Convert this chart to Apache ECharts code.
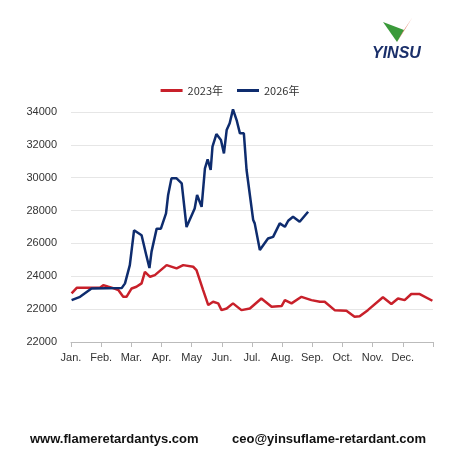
<!DOCTYPE html><html><head><meta charset="utf-8"><script src="https://cdn.jsdelivr.net/npm/echarts@6/dist/echarts.min.js"></script></head><body style="margin:0"><div id="c" style="width:460px;height:460px"></div><script>
const months=['Jan.','Feb.','Mar.','Apr.','May','Jun.','Jul.','Aug.','Sep.','Oct.','Nov.','Dec.'];
const yLabels={34000:'34000',32000:'32000',30000:'30000',28000:'28000',26000:'26000',24000:'24000',22000:'22000',20000:'22000'};
const s2023=[[0.02,22960],[0.19,23300],[0.96,23300],[1.07,23460],[1.24,23360],[1.4,23280],[1.57,23160],[1.73,22750],[1.84,22750],[2.01,23260],[2.17,23360],[2.34,23570],[2.45,24270],[2.62,23970],[2.78,24070],[3.17,24680],[3.5,24480],[3.72,24680],[4.05,24580],[4.16,24380],[4.38,23160],[4.55,22250],[4.71,22450],[4.88,22350],[4.99,21940],[5.16,22040],[5.37,22350],[5.65,21940],[5.93,22040],[6.31,22650],[6.65,22140],[6.98,22190],[7.09,22550],[7.31,22350],[7.64,22750],[7.97,22550],[8.25,22450],[8.41,22450],[8.74,21940],[9.13,21900],[9.4,21530],[9.57,21570],[9.84,21940],[10.34,22720],[10.62,22310],[10.84,22650],[11.06,22550],[11.28,22920],[11.56,22920],[11.98,22510]];
const s2026=[[0.02,22550],[0.3,22750],[0.68,23260],[1.68,23280],[1.79,23570],[1.95,24680],[2.09,26800],[2.34,26500],[2.48,25400],[2.6,24500],[2.67,25500],[2.84,26900],[2.98,26900],[3.15,27830],[3.22,28950],[3.33,29960],[3.5,29960],[3.67,29660],[3.83,27000],[4.1,28130],[4.18,28950],[4.33,28230],[4.44,30570],[4.53,31120],[4.63,30470],[4.69,31890],[4.82,32660],[4.97,32290],[5.07,31480],[5.16,32900],[5.26,33310],[5.37,34160],[5.49,33510],[5.6,32700],[5.73,32700],[5.82,30470],[6.04,27420],[6.09,27220],[6.26,25600],[6.53,26300],[6.7,26400],[6.92,27220],[7.09,27010],[7.2,27380],[7.36,27620],[7.58,27320],[7.86,27930]];
const ch=echarts.init(document.getElementById('c'));
ch.setOption({
 animation:false,
 legend:{top:80,left:'center',itemWidth:22,itemHeight:3,icon:'rect',itemGap:14,textStyle:{fontSize:11,color:'#333',fontFamily:'Noto Sans CJK SC'},data:['2023年','2026年']},
 grid:{left:71,right:27,top:112,bottom:118},
 xAxis:{type:'value',min:0,max:12,interval:1,axisLine:{lineStyle:{color:'#bbb'}},axisTick:{show:true,lineStyle:{color:'#bbb'}},splitLine:{show:false},
  axisLabel:{color:'#333',fontSize:11,margin:10,formatter:v=>months[v]||''}},
 yAxis:{type:'value',min:20000,max:34000,interval:2000,axisLine:{show:false},axisTick:{show:false},splitLine:{lineStyle:{color:'#e6e6e6'}},
  axisLabel:{color:'#333',fontSize:11,margin:14,formatter:v=>yLabels[v]}},
 series:[
  {name:'2023年',type:'line',clip:false,data:s2023,showSymbol:false,lineStyle:{color:'#c8202a',width:2.5},itemStyle:{color:'#c8202a'}},
  {name:'2026年',type:'line',clip:false,data:s2026,showSymbol:false,lineStyle:{color:'#0e2c6e',width:2.5},itemStyle:{color:'#0e2c6e'}}
 ],
 graphic:[
  {type:'polygon',shape:{points:[[383,22],[397,42],[404,30]]},style:{fill:'#3a9a3a'}},
  {type:'polygon',shape:{points:[[397,42],[412,18],[404,30]]},style:{fill:'#d84a2a'}},
  {type:'text',left:372,top:46,style:{text:'YINSU',font:'italic bold 16px Liberation Sans',fill:'#1a2f6a'}},
  {type:'text',left:30,top:433,style:{text:'www.flameretardantys.com',font:'bold 13px Liberation Sans',fill:'#111'}},
  {type:'text',left:232,top:433,style:{text:'ceo@yinsuflame-retardant.com',font:'bold 13px Liberation Sans',fill:'#111'}}
 ]
});
</script></body></html>
